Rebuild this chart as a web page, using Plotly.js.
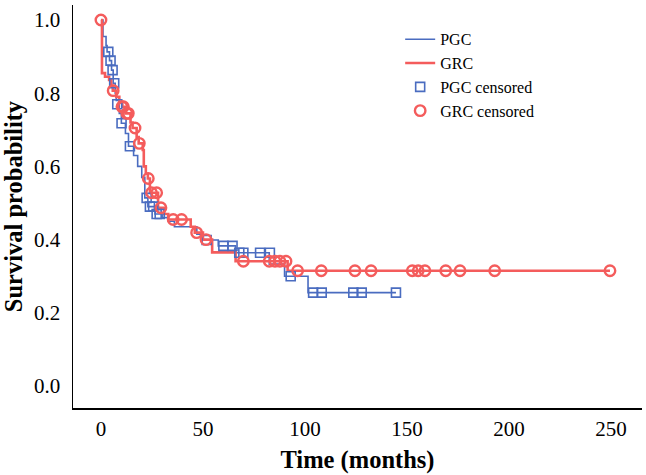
<!DOCTYPE html>
<html>
<head>
<meta charset="utf-8">
<script src="https://cdn.plot.ly/plotly-3.0.1.min.js"></script>
<style>html,body{margin:0;padding:0;background:#fff;}#chart{width:646px;height:475px;}</style>
</head>
<body>
<div id="chart"></div>
<script>
// PGC Kaplan-Meier steps (time in months, survival)
const pgcTime = [0, 1, 2.5, 3, 4.2, 5.2, 6, 7, 7.5, 9, 10, 12, 13.5, 16, 18, 20, 21.5, 23, 26.5, 30, 33, 36, 47, 50, 57.5, 66, 82.5, 90, 101.5, 144.6];
const pgcSurv = [1.0, 0.955, 0.93, 0.913, 0.889, 0.863, 0.827, 0.80, 0.78, 0.745, 0.718, 0.69, 0.655, 0.63, 0.60, 0.57, 0.514, 0.49, 0.47, 0.46, 0.45, 0.435, 0.415, 0.399, 0.383, 0.364, 0.333, 0.30, 0.255, 0.255];
// PGC censored marks
const pgcCensTime = [3.6, 4.7, 5.7, 6.5, 8, 10.1, 14.2, 22.4, 24, 25.6, 27.3, 28.8, 51.8, 60, 64.5, 67.8, 69.8, 78, 82.8, 93, 104, 108.2, 123.7, 127.8, 144.6];
const pgcCensSurv = [0.913, 0.889, 0.863, 0.827, 0.77, 0.718, 0.655, 0.514, 0.49, 0.49, 0.47, 0.47, 0.399, 0.383, 0.383, 0.364, 0.364, 0.364, 0.364, 0.30, 0.255, 0.255, 0.255, 0.255, 0.255];

// GRC Kaplan-Meier steps
const grcTime = [0, 0.5, 2, 4, 5, 5.8, 7.5, 9, 10.5, 12, 14.5, 15.5, 17.5, 18.5, 20.5, 21, 22, 23, 24, 28, 31, 33, 44, 46, 50, 54.5, 66, 91.5, 249.5];
const grcSurv = [1.0, 0.855, 0.845, 0.836, 0.82, 0.807, 0.79, 0.775, 0.763, 0.745, 0.72, 0.705, 0.68, 0.663, 0.645, 0.60, 0.58, 0.567, 0.528, 0.487, 0.47, 0.455, 0.435, 0.419, 0.40, 0.365, 0.341, 0.315, 0.315];
// GRC censored marks
const grcCensTime = [0, 6, 10.3, 11, 12.7, 13.4, 16.7, 18.8, 23.2, 24.8, 27.3, 29.4, 35.4, 39.5, 46.9, 51.5, 69.8, 82.5, 85.3, 87.7, 90.7, 96.4, 108, 124.5, 132.4, 152.6, 155.5, 158.8, 169, 176, 193, 249.5];
const grcCensSurv = [1.0, 0.807, 0.763, 0.763, 0.745, 0.745, 0.705, 0.663, 0.567, 0.528, 0.528, 0.487, 0.455, 0.455, 0.419, 0.40, 0.341, 0.341, 0.341, 0.341, 0.341, 0.315, 0.315, 0.315, 0.315, 0.315, 0.315, 0.315, 0.315, 0.315, 0.315, 0.315];

const xTicks = [0, 50, 100, 150, 200, 250];
const yTicks = [0.0, 0.2, 0.4, 0.6, 0.8, 1.0];
const yTickText = ['0.0', '0.2', '0.4', '0.6', '0.8', '1.0'];

const blue = '#4a6cc0';
const red = '#f45c5c';

const traces = [
  {x: pgcTime, y: pgcSurv, type: 'scatter', mode: 'lines', line: {shape: 'hv', color: blue, width: 1.6}, name: 'PGC'},
  {x: grcTime, y: grcSurv, type: 'scatter', mode: 'lines', line: {shape: 'hv', color: red, width: 2.6}, name: 'GRC'},
  {x: pgcCensTime, y: pgcCensSurv, type: 'scatter', mode: 'markers', marker: {symbol: 'square-open', size: 9, color: blue, line: {width: 1.6}}, name: 'PGC censored'},
  {x: grcCensTime, y: grcCensSurv, type: 'scatter', mode: 'markers', marker: {symbol: 'circle-open', size: 10.5, color: red, line: {width: 2.4}}, name: 'GRC censored'}
];

const layout = {
  width: 646, height: 475,
  margin: {l: 73, r: 4, t: 5, b: 67},
  paper_bgcolor: '#fff', plot_bgcolor: '#fff',
  font: {family: '"Liberation Serif", "Times New Roman", serif', color: '#000'},
  showlegend: true,
  legend: {x: 0.575, y: 0.957, xanchor: 'left', yanchor: 'top', bgcolor: 'rgba(0,0,0,0)',
           font: {size: 16, family: '"Liberation Serif", serif'}, tracegroupgap: 0, itemwidth: 30},
  xaxis: {range: [-13.7, 265.2], tickvals: xTicks, ticktext: xTicks.map(String), ticks: '', showgrid: false, zeroline: false,
          showline: true, linecolor: '#000', linewidth: 1.5, tickfont: {size: 21}, ticklabelstandoff: 1,
          title: {text: '<b>Time (months)</b>', font: {size: 24.5}, standoff: 11}},
  yaxis: {range: [-0.0601, 1.041], tickvals: yTicks, ticktext: yTickText, ticks: '', showgrid: false, zeroline: false,
          showline: true, linecolor: '#000', linewidth: 1.5, tickfont: {size: 21}, ticklabelstandoff: 7,
          title: {text: '<b>Survival probability</b>', font: {size: 24.5}, standoff: 6}}
};

Plotly.newPlot('chart', traces, layout, {displayModeBar: false, staticPlot: true});
</script>
</body>
</html>
